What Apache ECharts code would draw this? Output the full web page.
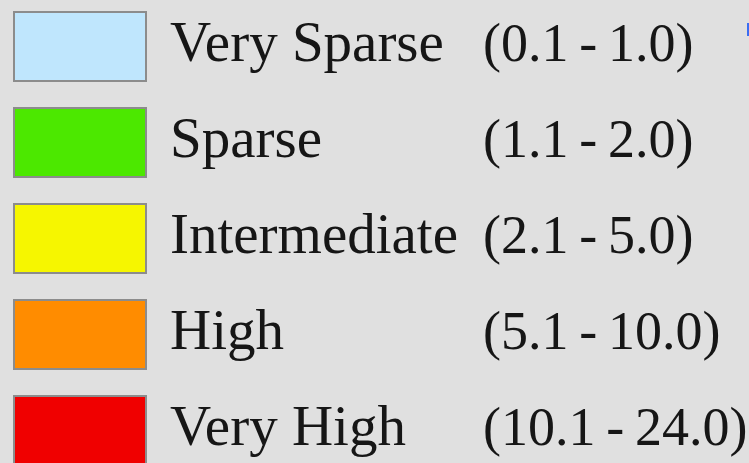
<!DOCTYPE html>
<html>
<head>
<meta charset="utf-8">
<script src="https://cdn.jsdelivr.net/npm/echarts@6/dist/echarts.min.js"></script>
<style>
html,body{margin:0;padding:0;background:#e0e0e0;}
#chart{width:749px;height:463px;}
</style>
</head>
<body>
<div id="chart"></div>
<script>
const categories = ['Very Sparse', 'Sparse', 'Intermediate', 'High', 'Very High'];
const rangeMin = [0.1, 1.1, 2.1, 5.1, 10.1];
const rangeMax = [1.0, 2.0, 5.0, 10.0, 24.0];
const colors = ['#bfe6fd', '#4ce800', '#f6f600', '#ff8c00', '#f00000'];

const rangeText = {};
categories.forEach((c, i) => {
  rangeText[c] = '(' + rangeMin[i].toFixed(1) + '\u2009-\u2009' + rangeMax[i].toFixed(1) + ')';
});

const chart = echarts.init(document.getElementById('chart'), null, {renderer: 'canvas'});
const serif = '"Liberation Serif", "DejaVu Serif", serif';
chart.setOption({
  backgroundColor: '#e0e0e0',
  animation: false,
  grid: {left: 0, right: 0, top: 0, bottom: 0, show: false},
  xAxis: {type: 'category', show: false, data: ['x']},
  yAxis: {type: 'value', show: false},
  legend: {
    orient: 'vertical',
    left: 13,
    top: 11,
    height: 700,
    padding: 0,
    icon: 'rect',
    itemWidth: 132,
    itemHeight: 69,
    itemGap: 25,
    selectedMode: false,
    itemStyle: {borderColor: '#8c8c8c', borderWidth: 2},
    data: categories,
    formatter: name => '{a|' + name + '}{b|' + rangeText[name] + '}',
    textStyle: {
      fontFamily: serif,
      fontSize: 57,
      lineHeight: 66,
      color: '#161616',
      padding: [0, 0, 0, 19],
      rich: {
        a: {fontFamily: serif, fontSize: 57, lineHeight: 66, color: '#161616', width: 313},
        b: {fontFamily: serif, fontSize: 54, lineHeight: 66, color: '#161616'}
      }
    }
  },
  graphic: [{
    type: 'rect', right: 0, top: 23,
    shape: {width: 2, height: 13},
    style: {fill: '#3a6ef2'}
  }],
  series: categories.map((c, i) => ({
    name: c,
    type: 'bar',
    data: [],
    itemStyle: {color: colors[i]}
  }))
});
</script>
</body>
</html>
